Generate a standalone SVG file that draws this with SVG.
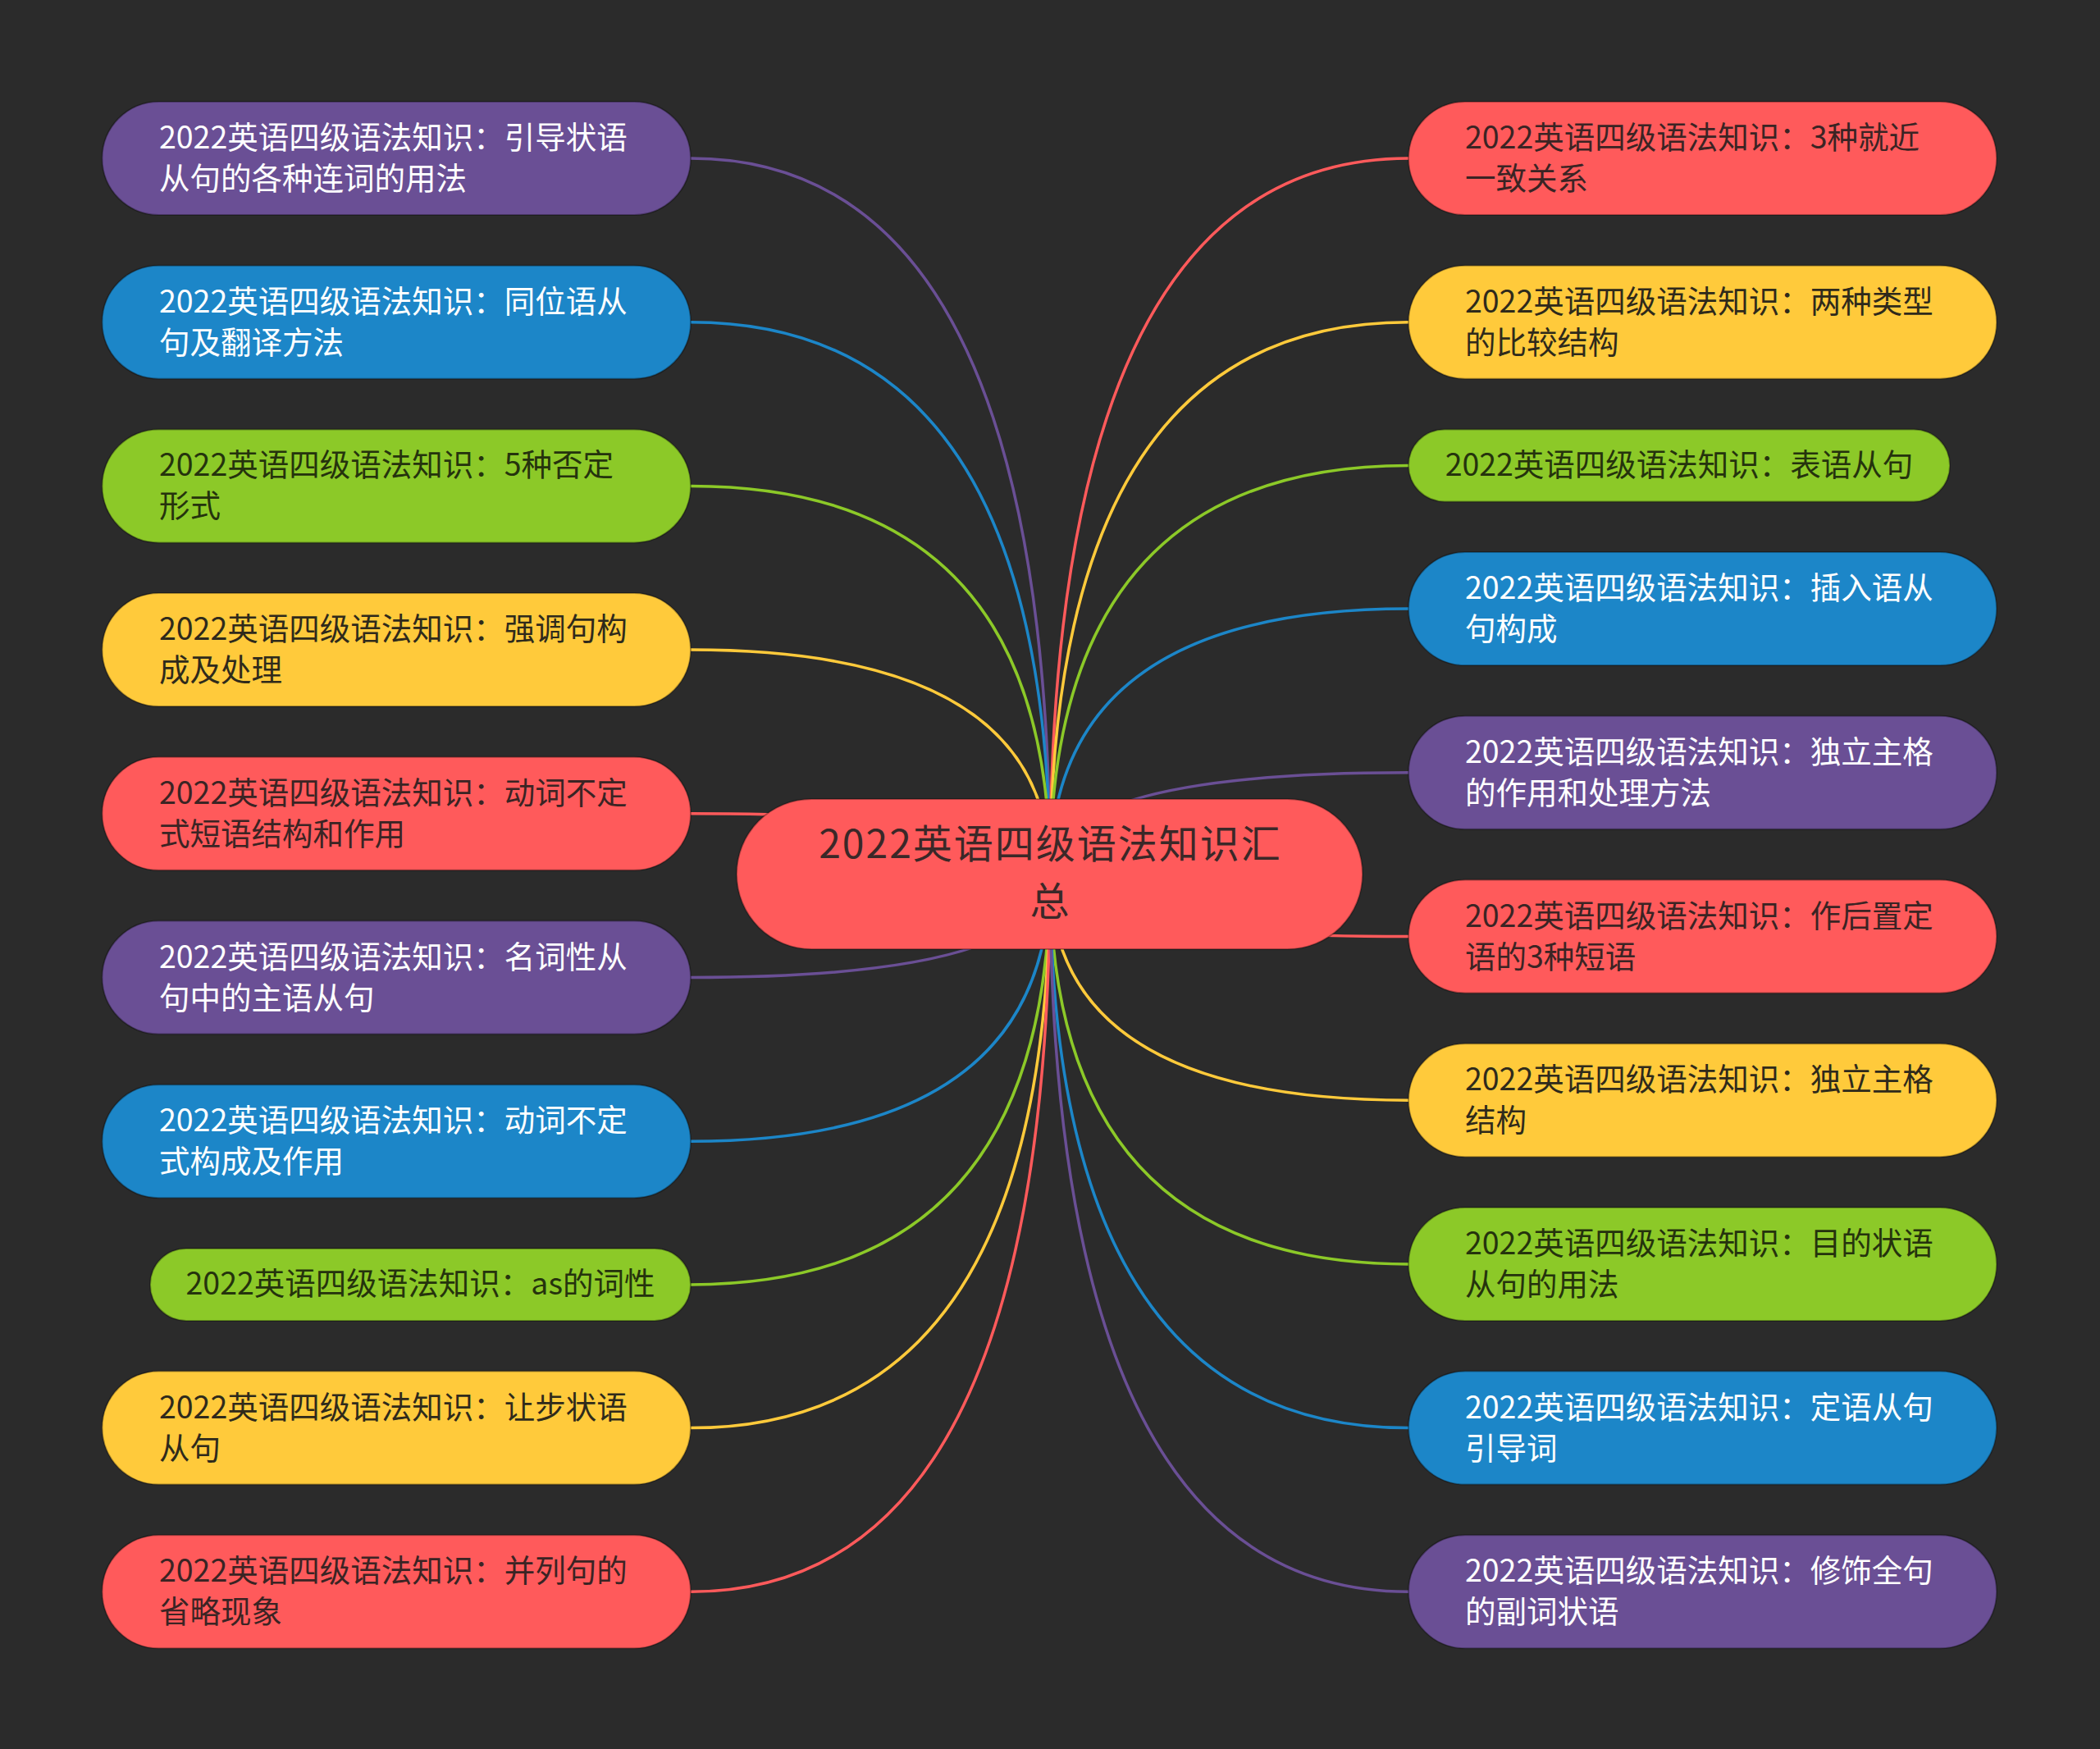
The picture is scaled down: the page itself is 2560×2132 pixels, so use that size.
<svg xmlns="http://www.w3.org/2000/svg" width="2560" height="2132" viewBox="0 0 2560 2132">
<style>
.t{font-family:"Noto Sans CJK SC","Liberation Sans",sans-serif;font-size:37.5px}
.tc{font-family:"Noto Sans CJK SC","Liberation Sans",sans-serif;font-size:48px;letter-spacing:2px;fill:#3B2828;text-anchor:middle}
.c{text-anchor:middle}
.n{stroke:rgba(0,0,0,0.3);stroke-width:2}
.red{fill:#FF5A5B}.yel{fill:#FFCA3B}.grn{fill:#8CC928}.blu{fill:#1C86C8}.pur{fill:#6A4F95}
.tw{fill:#FFFFFF}.tr{fill:#3B2424}.ty{fill:#2F2A1B}.tg{fill:#25330D}
.e{fill:none;stroke-width:3.5}
.er{stroke:#FF5A5B}.ey{stroke:#FFCA3B}.eg{stroke:#8CC928}.eb{stroke:#1C86C8}.ep{stroke:#6A4F95}
</style>
<rect width="2560" height="2132" fill="#2B2B2B"/>
<g id="connectors">
<path class="e ep" d="M842 193 Q1280 193 1280 1065"/>
<path class="e eb" d="M842 392.7 Q1280 392.7 1280 1065"/>
<path class="e eg" d="M842 592.4 Q1280 592.4 1280 1065"/>
<path class="e ey" d="M842 792.1 Q1280 792.1 1280 1065"/>
<path class="e er" d="M842 991.8 Q1280 991.8 1280 1065"/>
<path class="e ep" d="M842 1191.5 Q1280 1191.5 1280 1065"/>
<path class="e eb" d="M842 1391.2 Q1280 1391.2 1280 1065"/>
<path class="e eg" d="M842 1565.9 Q1280 1565.9 1280 1065"/>
<path class="e ey" d="M842 1740.6 Q1280 1740.6 1280 1065"/>
<path class="e er" d="M842 1940.3 Q1280 1940.3 1280 1065"/>
<path class="e er" d="M1717 193 Q1280 193 1280 1065"/>
<path class="e ey" d="M1717 392.7 Q1280 392.7 1280 1065"/>
<path class="e eg" d="M1717 567.4 Q1280 567.4 1280 1065"/>
<path class="e eb" d="M1717 742.1 Q1280 742.1 1280 1065"/>
<path class="e ep" d="M1717 941.8 Q1280 941.8 1280 1065"/>
<path class="e er" d="M1717 1141.5 Q1280 1141.5 1280 1065"/>
<path class="e ey" d="M1717 1341.2 Q1280 1341.2 1280 1065"/>
<path class="e eg" d="M1717 1540.9 Q1280 1540.9 1280 1065"/>
<path class="e eb" d="M1717 1740.6 Q1280 1740.6 1280 1065"/>
<path class="e ep" d="M1717 1940.3 Q1280 1940.3 1280 1065"/>
</g>
<g id="root">
<rect class="n red" x="898" y="974" width="763" height="183" rx="91.5"/>
<text class="tc" x="1280.5" y="1046">2022英语四级语法知识汇</text>
<text class="tc" x="1280.5" y="1116">总</text>
</g>
<g id="L1"><rect class="n pur" x="124.5" y="124" width="717.5" height="138" rx="69"/><text class="t tw" x="194" y="181">2022英语四级语法知识：引导状语</text><text class="t tw" x="194" y="231">从句的各种连词的用法</text></g>
<g id="L2"><rect class="n blu" x="124.5" y="323.7" width="717.5" height="138" rx="69"/><text class="t tw" x="194" y="380.7">2022英语四级语法知识：同位语从</text><text class="t tw" x="194" y="430.7">句及翻译方法</text></g>
<g id="L3"><rect class="n grn" x="124.5" y="523.4" width="717.5" height="138" rx="69"/><text class="t tg" x="194" y="580.4">2022英语四级语法知识：5种否定</text><text class="t tg" x="194" y="630.4">形式</text></g>
<g id="L4"><rect class="n yel" x="124.5" y="723.1" width="717.5" height="138" rx="69"/><text class="t ty" x="194" y="780.1">2022英语四级语法知识：强调句构</text><text class="t ty" x="194" y="830.1">成及处理</text></g>
<g id="L5"><rect class="n red" x="124.5" y="922.8" width="717.5" height="138" rx="69"/><text class="t tr" x="194" y="979.8">2022英语四级语法知识：动词不定</text><text class="t tr" x="194" y="1029.8">式短语结构和作用</text></g>
<g id="L6"><rect class="n pur" x="124.5" y="1122.5" width="717.5" height="138" rx="69"/><text class="t tw" x="194" y="1179.5">2022英语四级语法知识：名词性从</text><text class="t tw" x="194" y="1229.5">句中的主语从句</text></g>
<g id="L7"><rect class="n blu" x="124.5" y="1322.2" width="717.5" height="138" rx="69"/><text class="t tw" x="194" y="1379.2">2022英语四级语法知识：动词不定</text><text class="t tw" x="194" y="1429.2">式构成及作用</text></g>
<g id="L8"><rect class="n grn" x="183" y="1521.9" width="659" height="88" rx="44"/><text class="t tg c" x="512.5" y="1578">2022英语四级语法知识：as的词性</text></g>
<g id="L9"><rect class="n yel" x="124.5" y="1671.6" width="717.5" height="138" rx="69"/><text class="t ty" x="194" y="1728.6">2022英语四级语法知识：让步状语</text><text class="t ty" x="194" y="1778.6">从句</text></g>
<g id="L10"><rect class="n red" x="124.5" y="1871.3" width="717.5" height="138" rx="69"/><text class="t tr" x="194" y="1928.3">2022英语四级语法知识：并列句的</text><text class="t tr" x="194" y="1978.3">省略现象</text></g>
<g id="R1"><rect class="n red" x="1717" y="124" width="717" height="138" rx="69"/><text class="t tr" x="1786" y="181">2022英语四级语法知识：3种就近</text><text class="t tr" x="1786" y="231">一致关系</text></g>
<g id="R2"><rect class="n yel" x="1717" y="323.7" width="717" height="138" rx="69"/><text class="t ty" x="1786" y="380.7">2022英语四级语法知识：两种类型</text><text class="t ty" x="1786" y="430.7">的比较结构</text></g>
<g id="R3"><rect class="n grn" x="1717" y="523.4" width="660" height="88" rx="44"/><text class="t tg c" x="2047" y="579.5">2022英语四级语法知识：表语从句</text></g>
<g id="R4"><rect class="n blu" x="1717" y="673.1" width="717" height="138" rx="69"/><text class="t tw" x="1786" y="730.1">2022英语四级语法知识：插入语从</text><text class="t tw" x="1786" y="780.1">句构成</text></g>
<g id="R5"><rect class="n pur" x="1717" y="872.8" width="717" height="138" rx="69"/><text class="t tw" x="1786" y="929.8">2022英语四级语法知识：独立主格</text><text class="t tw" x="1786" y="979.8">的作用和处理方法</text></g>
<g id="R6"><rect class="n red" x="1717" y="1072.5" width="717" height="138" rx="69"/><text class="t tr" x="1786" y="1129.5">2022英语四级语法知识：作后置定</text><text class="t tr" x="1786" y="1179.5">语的3种短语</text></g>
<g id="R7"><rect class="n yel" x="1717" y="1272.2" width="717" height="138" rx="69"/><text class="t ty" x="1786" y="1329.2">2022英语四级语法知识：独立主格</text><text class="t ty" x="1786" y="1379.2">结构</text></g>
<g id="R8"><rect class="n grn" x="1717" y="1471.9" width="717" height="138" rx="69"/><text class="t tg" x="1786" y="1528.9">2022英语四级语法知识：目的状语</text><text class="t tg" x="1786" y="1578.9">从句的用法</text></g>
<g id="R9"><rect class="n blu" x="1717" y="1671.6" width="717" height="138" rx="69"/><text class="t tw" x="1786" y="1728.6">2022英语四级语法知识：定语从句</text><text class="t tw" x="1786" y="1778.6">引导词</text></g>
<g id="R10"><rect class="n pur" x="1717" y="1871.3" width="717" height="138" rx="69"/><text class="t tw" x="1786" y="1928.3">2022英语四级语法知识：修饰全句</text><text class="t tw" x="1786" y="1978.3">的副词状语</text></g>
</svg>
